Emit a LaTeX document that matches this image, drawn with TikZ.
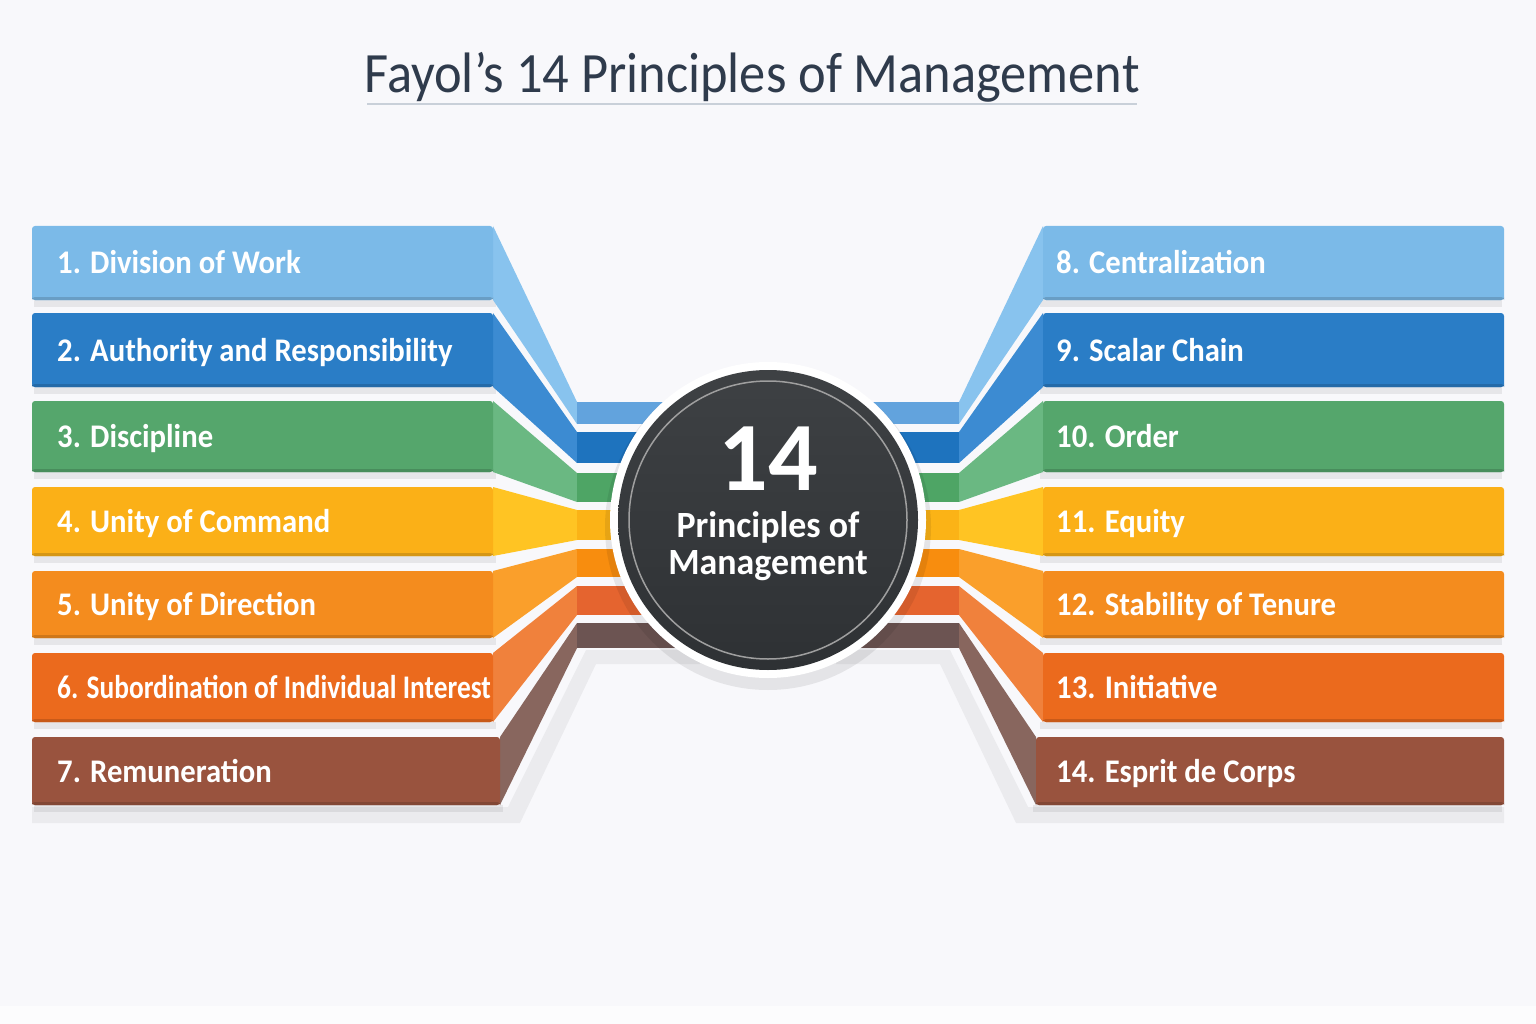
\documentclass[tikz,border=0pt]{standalone}
\usepackage{fontspec}
\usepackage{graphicx}
\setmainfont{Carlito}
\usetikzlibrary{calc}
\definecolor{bg}{HTML}{F8F8FB}
\definecolor{titlec}{HTML}{2F3B4C}
\definecolor{rulec}{HTML}{C9D0D9}
\definecolor{af}{HTML}{7BBAE8}\definecolor{as}{HTML}{88C3EE}\definecolor{ap}{HTML}{62A3DD}
\definecolor{bf}{HTML}{2A7DC6}\definecolor{bs}{HTML}{3C8BD2}\definecolor{bp}{HTML}{1E73BE}
\definecolor{cf}{HTML}{55A66C}\definecolor{cs}{HTML}{6AB882}\definecolor{cp}{HTML}{4EA565}
\definecolor{df}{HTML}{FBB017}\definecolor{ds}{HTML}{FFC423}\definecolor{dp}{HTML}{FBB316}
\definecolor{ef}{HTML}{F48C1E}\definecolor{es}{HTML}{FA9F2B}\definecolor{ep}{HTML}{F88D0E}
\definecolor{ff}{HTML}{EB6A1D}\definecolor{fs}{HTML}{F0813C}\definecolor{fp}{HTML}{E5642F}
\definecolor{gf}{HTML}{99533E}\definecolor{gs}{HTML}{88665E}\definecolor{gp}{HTML}{6C5452}
\definecolor{hubdark}{HTML}{2E3134}
\definecolor{hubtop}{HTML}{3E4144}
\tikzset{
  lbl/.style={anchor=base west, text=white, inner sep=0pt, font=\bfseries\fontsize{33}{36}\selectfont},
  flatbox/.style={rounded corners=3pt},
}
\newcommand\lab[2][0.93]{\scalebox{#1}[1]{#2}}
\newcommand\bandshapes{%
  \foreach \ya/\yb/\sa/\sb/\xr/\c in {226/300/402/424/493/a, 313/387/432/463/493/b, 401/472/473/502/493/c, 487/556/510/540/493/d, 571/638/549/577/493/e, 653/722/586/615/493/f, 737/805/623/648/500/g}{
    \fill[black, opacity=0.07] (34,\yb) rectangle (\xr+3,\yb+7);
    \fill[\c s] (\xr,\ya) -- (577,\sa) -- (577,\sb) -- (\xr,\yb) -- cycle;
    \fill[\c p] (577,\sa) rectangle (768,\sb);
    \fill[\c f, flatbox] (32,\ya) rectangle (\xr,\yb);
    \fill[\c f!85!black, flatbox] (32,\yb-3) rectangle (\xr,\yb);
    \fill[\c f] (32,\yb-6) rectangle (\xr,\yb-3);
  }
  \fill[black, opacity=0.05] (32,807) -- (508,807) -- (586,650) -- (700,650) -- (700,664) -- (596,664) -- (520,823) -- (32,823) -- cycle;
}
\begin{document}
\begin{tikzpicture}[x=1pt, y=-1pt]
\useasboundingbox (0,0) rectangle (1536,1024);
\fill[bg] (0,0) rectangle (1536,1006);
\fill[white!60!bg] (0,1006) rectangle (1536,1024);
% title
\node[anchor=base, text=titlec, inner sep=0pt, font=\fontsize{57}{60}\selectfont] (title) at (752,93) {\lab[0.92]{Fayol’s 14 Principles of Management}};
\draw[rulec, line width=1.2pt] (367,104) -- (1137,104);
% bands
\bandshapes
\begin{scope}[xshift=1536pt, xscale=-1]
\bandshapes
\end{scope}
% hub
\fill[black, opacity=0.08] (768,527) circle (163);
\fill[white] (768,520) circle (158);
\shade[top color=hubtop, bottom color=hubdark] (768,520) circle (150);
\draw[gray!75, line width=1.5pt] (768,520) circle (139);
\node[circle, minimum size=300pt, inner sep=0pt] (hub) at (768,520) {};
\node[anchor=base, text=white, inner sep=0pt, font=\bfseries\fontsize{98}{98}\selectfont] (hubnum) at (768,490) {14};
\node[anchor=base, text=white, inner sep=0pt, font=\bfseries\fontsize{37}{40}\selectfont] (hubl1) at (768,537) {\lab[0.97]{Principles of}};
\node[anchor=base, text=white, inner sep=0pt, font=\bfseries\fontsize{37}{40}\selectfont] (hubl2) at (768,574) {\lab[0.97]{Management}};
% labels left
\node[lbl] (p1) at (57,274) {\lab{1. Division of Work}};
\node[lbl] (p2) at (57,361) {\lab{2. Authority and Responsibility}};
\node[lbl] (p3) at (57,447) {\lab{3. Discipline}};
\node[lbl] (p4) at (57,532) {\lab{4. Unity of Command}};
\node[lbl] (p5) at (57,615) {\lab{5. Unity of Direction}};
\node[lbl] (p6) at (57,698) {\lab[0.83]{6. Subordination of Individual Interest}};
\node[lbl] (p7) at (57,782) {\lab{7. Remuneration}};
% labels right
\node[lbl] (p8) at (1056,274) {\lab{8. Centralization}};
\node[lbl] (p9) at (1056,361) {\lab{9. Scalar Chain}};
\node[lbl] (p10) at (1056,447) {\lab{10. Order}};
\node[lbl] (p11) at (1056,532) {\lab{11. Equity}};
\node[lbl] (p12) at (1056,615) {\lab{12. Stability of Tenure}};
\node[lbl] (p13) at (1056,698) {\lab{13. Initiative}};
\node[lbl] (p14) at (1056,782) {\lab{14. Esprit de Corps}};
\end{tikzpicture}
\end{document}
